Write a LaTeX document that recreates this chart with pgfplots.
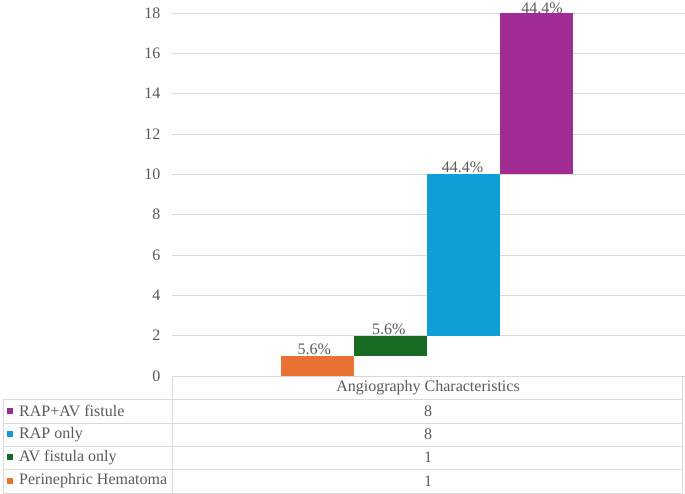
\documentclass[border=0pt]{standalone}
\usepackage{pgfplots}
\pgfplotsset{compat=1.18}
\usepackage{fontspec}
\setmainfont{Liberation Serif}
\definecolor{cOr}{HTML}{E97132}
\definecolor{cGr}{HTML}{196B24}
\definecolor{cBl}{HTML}{0F9ED5}
\definecolor{cPu}{HTML}{A02B93}
\definecolor{txt}{HTML}{595959}
\definecolor{grd}{HTML}{D9D9D9}
\begin{document}
\begin{tikzpicture}[x=1pt,y=1pt,font=\fontsize{16}{19}\selectfont]
\path[use as bounding box] (0,0) rectangle (685,494);
\begin{axis}[at={(172pt,118pt)}, anchor=south west, scale only axis,
  width=513pt, height=363pt, xmin=0, xmax=7.03, ymin=0, ymax=18,
  ytick={0,2,...,18}, xtick=\empty, axis line style={draw=none},
  major tick length=0pt, ymajorgrids, grid style={grd, line width=0.8pt},
  yticklabel style={text=txt, xshift=-8pt},
  tick label style={font=\fontsize{16}{19}\selectfont},
  /pgf/number format/assume math mode=true, clip=false]
\addplot[fill=cOr, draw=none] coordinates {(1.5,0) (2.5,0) (2.5,1) (1.5,1)};
\addplot[fill=cGr, draw=none] coordinates {(2.5,1) (3.5,1) (3.5,2) (2.5,2)};
\addplot[fill=cBl, draw=none] coordinates {(3.5,2) (4.5,2) (4.5,10) (3.5,10)};
\addplot[fill=cPu, draw=none] coordinates {(4.5,10) (5.5,10) (5.5,18) (4.5,18)};
\node[anchor=south, inner sep=1pt, text=txt] at (axis cs:1.95,1) {5.6\%};
\node[anchor=south, inner sep=1pt, text=txt] at (axis cs:2.97,2) {5.6\%};
\node[anchor=south, inner sep=1pt, text=txt] at (axis cs:3.98,10) {44.4\%};
\node[anchor=south, inner sep=0pt, text=txt] at (axis cs:5.07,17.97) {44.4\%};
\end{axis}
% data table
\draw[grd, line width=0.8pt] (172,117.5) -- (682,117.5) -- (682,1) -- (3,1) -- (3,95) -- (682,95);
\draw[grd, line width=0.8pt] (172,117.5) -- (172,1);
\foreach \yy in {71,48,25} \draw[grd, line width=0.8pt] (3,\yy) -- (682,\yy);
\node[text=txt] at (428,106) {Angiography Characteristics};
\foreach \yy/\cc/\lab/\val in {83/cPu/RAP+AV fistule/8, 59.5/cBl/RAP only/8, 36.5/cGr/AV fistula only/1, 13/cOr/Perinephric Hematoma/1}{
  \fill[\cc] (7.3,\yy-3) rectangle (13.3,\yy+3);
  \node[text=txt, anchor=west, inner sep=0pt] at (19,\yy) {\lab};
  \node[text=txt] at (428,\yy) {\val};
}
\end{tikzpicture}
\end{document}
